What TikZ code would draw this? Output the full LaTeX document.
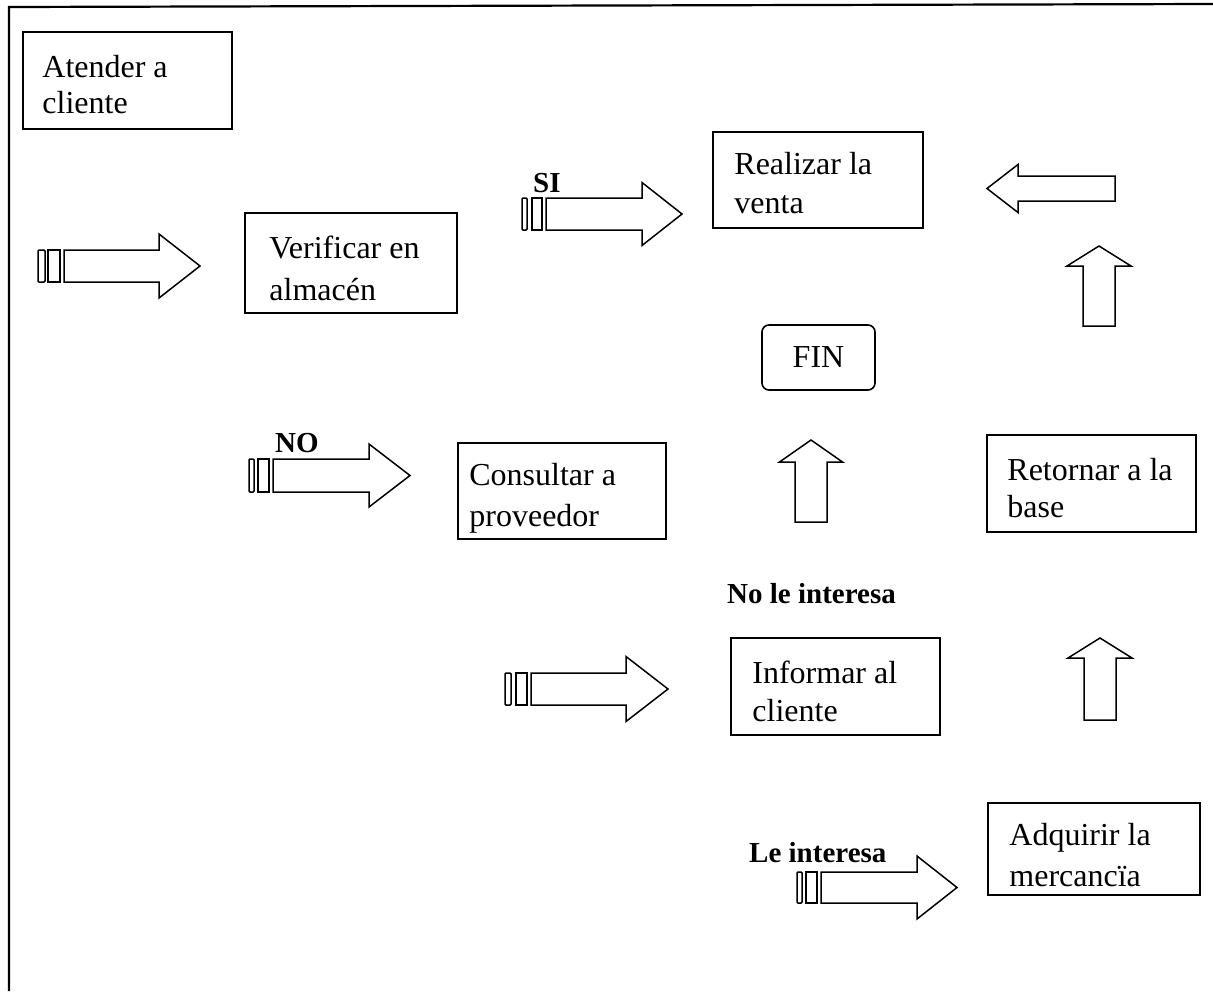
\documentclass[tikz,border=0pt]{standalone}
\usepackage{fontspec}
\setmainfont{Liberation Serif}
\newcommand\ArrR[6]{\draw[hollow] (#1,#4-#5) -- (#2,#4-#5) -- (#2,#4-#6) -- (#3,#4) -- (#2,#4+#6) -- (#2,#4+#5) -- (#1,#4+#5) -- cycle;}
\newcommand\ArrU[6]{\draw[hollow] (#1-#5,#4) -- (#1-#5,#3) -- (#1-#6,#3) -- (#1,#2) -- (#1+#6,#3) -- (#1+#5,#3) -- (#1+#5,#4) -- cycle;}
\newcommand\BarPair[6]{\draw[hollow, rounded corners=1pt] (#1,#5-#6) rectangle (#2,#5+#6);
  \draw[hollow] (#3,#5-#6) rectangle (#4,#5+#6);}
\begin{document}
\begin{tikzpicture}[x=1pt,y=-1pt,
  hollow/.style={draw=black, line width=1.5pt, fill=white, line join=miter},
  box/.style={draw=black, line width=1.6pt, rectangle, inner sep=0pt},
  txt/.style={align=left, inner sep=0pt, anchor=west, font=\fontsize{32}{#1}\selectfont},
  lbl/.style={font=\bfseries\fontsize{29}{32}\selectfont, inner sep=0pt, anchor=base west}]
\useasboundingbox (0,0) rectangle (1213,991);
% frame
\draw[line width=2.2pt] (9,991) -- (9,7) -- (1213,4);
% boxes
\node[box, minimum width=209pt, minimum height=97pt] (atender) at (127.5,80.5) {};
\node[txt=36] (atendert) at ([xshift=20pt,yshift=-4pt]atender.west) {Atender a\\cliente};
\node[box, minimum width=212pt, minimum height=100pt] (verificar) at (351,263) {};
\node[txt=42] (verificart) at ([xshift=25pt,yshift=-5pt]verificar.west) {Verificar en\\almacén};
\node[box, minimum width=210pt, minimum height=96pt] (realizar) at (818,180) {};
\node[txt=39] (realizart) at ([xshift=22pt,yshift=-3.5pt]realizar.west) {Realizar la\\venta};
\node[box, rounded corners=7pt, minimum width=113pt, minimum height=65pt, font=\fontsize{32}{38}\selectfont] (fin) at (818.5,357.5) {FIN};
\node[box, minimum width=208pt, minimum height=96pt] (consultar) at (562,491) {};
\node[txt=41] (consultart) at ([xshift=12pt,yshift=-7pt]consultar.west) {Consultar a\\proveedor};
\node[box, minimum width=209pt, minimum height=97pt] (retornar) at (1091.5,483.5) {};
\node[txt=37] (retornart) at ([xshift=21pt,yshift=-5pt]retornar.west) {Retornar a la\\base};
\node[box, minimum width=209pt, minimum height=97pt] (informar) at (835.5,686.5) {};
\node[txt=38] (informart) at ([xshift=22pt,yshift=-5pt]informar.west) {Informar al\\cliente};
\node[box, minimum width=212pt, minimum height=92pt] (adquirir) at (1094,849) {};
\node[txt=41] (adquirirt) at ([xshift=22pt,yshift=-6pt]adquirir.west) {Adquirir la\\mercancïa};
% labels
\node[lbl] (si) at (533,192) {SI};
\node[lbl] (no) at (275,452) {NO};
\node[lbl] (nointeresa) at (727,603) {No le interesa};
\node[lbl] (leinteresa) at (749,862) {Le interesa};
% right arrows with bars
\BarPair{38}{45}{48}{60}{266}{16}
\ArrR{64}{159}{200}{266}{16}{32}
\BarPair{522}{527}{532}{542}{214}{16}
\ArrR{546}{642}{682}{214}{16}{31.5}
\BarPair{249}{254}{258}{269}{475.5}{16.5}
\ArrR{273}{369}{410}{475.5}{16.5}{31.5}
\BarPair{505}{511}{516}{527}{689}{16}
\ArrR{531}{626}{668}{689}{16}{32.5}
\BarPair{797}{802}{806}{817}{887.5}{15.5}
\ArrR{821}{917}{957}{887.5}{15.5}{31.5}
% left arrow
\ArrR{1115}{1018}{987}{188.5}{12.5}{24}
% up arrows
\ArrU{1099}{246}{266}{326}{16}{32}
\ArrU{811}{440}{462}{522}{16}{31.5}
\ArrU{1100}{638}{658}{720}{16}{32}
\end{tikzpicture}
\end{document}
